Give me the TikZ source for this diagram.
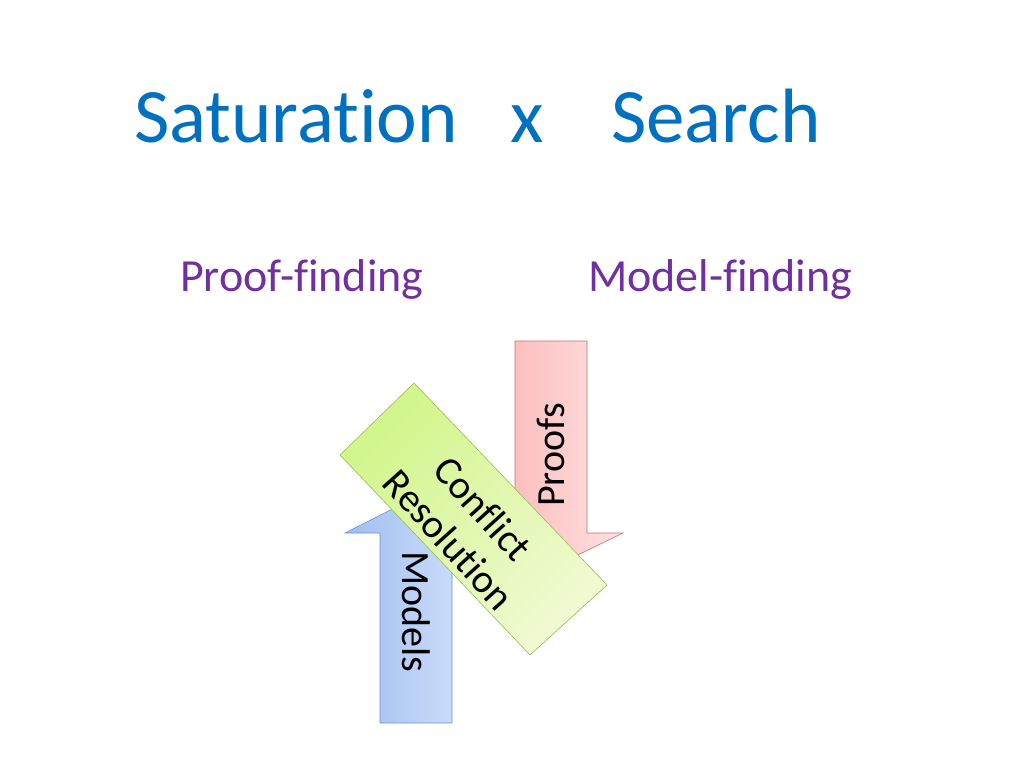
\documentclass[tikz,border=0pt]{standalone}
\usepackage{fontspec}
\setmainfont[Ligatures=NoCommon]{Carlito}
\definecolor{ttl}{HTML}{0070C0}
\definecolor{sub}{HTML}{7030A0}
\definecolor{bl1}{RGB}{160,190,240}
\definecolor{bl2}{RGB}{215,228,252}
\definecolor{bld}{RGB}{110,145,205}
\definecolor{rd1}{RGB}{250,180,180}
\definecolor{rd2}{RGB}{255,225,225}
\definecolor{rdd}{RGB}{205,110,110}
\definecolor{gr1}{RGB}{210,245,140}
\definecolor{gr2}{RGB}{240,250,210}
\definecolor{grd}{RGB}{150,190,80}
\begin{document}
\begin{tikzpicture}[x=1pt,y=-1pt,
  lbl/.style={font=\fontsize{40}{44}\selectfont, inner sep=0pt}]
\useasboundingbox (0,0) rectangle (1024,768);
\node[anchor=base west, text=ttl, font=\fontsize{77}{80}\selectfont, inner sep=0pt] (title) at (134,142) {Saturation\hspace{0.68em}x\hspace{0.88em}Search};
\node[anchor=base west, text=sub, font=\fontsize{46}{50}\selectfont, inner sep=0pt] (pf) at (180,291) {Proof-finding};
\node[anchor=base west, text=sub, font=\fontsize{46}{50}\selectfont, inner sep=0pt] (mf) at (588,291) {Model-finding};
% Models (blue up arrow)
\path[draw=bld, left color=bl1, right color=bl2, line width=0.6pt]
  (380,723) -- (380,533) -- (345,533) -- (416,497) -- (487,533) -- (452,533) -- (452,723) -- cycle;
\node[lbl, rotate=-90] (models) at (416,612) {Models};
% Proofs (red down arrow)
\path[draw=rdd, left color=rd1, right color=rd2, line width=0.6pt]
  (515,341) -- (587,341) -- (587,533) -- (623,533) -- (551,568) -- (479,533) -- (515,533) -- cycle;
\node[lbl, rotate=90] (proofs) at (551,455) {Proofs};
% Conflict resolution (green box)
\path[draw=grd, left color=gr1, right color=gr2, line width=0.6pt, shading angle=45]
  (414,383) -- (607,585) -- (530,655) -- (340,455) -- cycle;
\node[font=\fontsize{40}{46}\selectfont, rotate=-48, align=center, inner sep=0pt] (cr) at (466,524) {Conflict\\Resolution};
\end{tikzpicture}
\end{document}
